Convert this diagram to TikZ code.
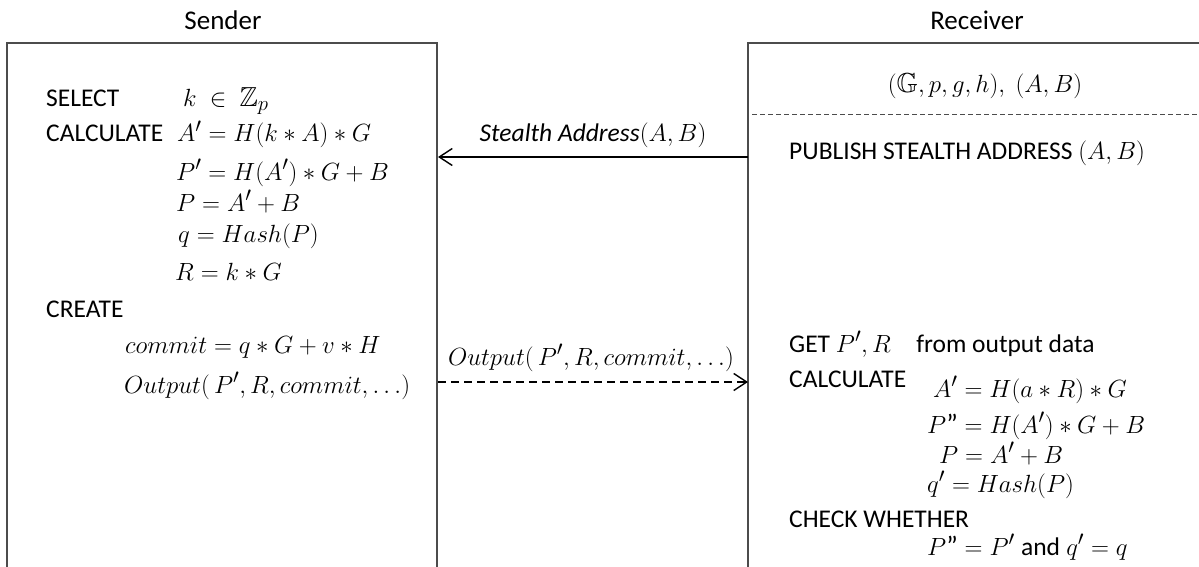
\documentclass[tikz,border=0pt]{standalone}
\usepackage{amssymb}
\usepackage[no-math]{fontspec}
\setmainfont{Carlito}
\usetikzlibrary{arrows.meta}
% formulas are set a little larger than the surrounding words
\newcommand{\fm}[1]{{\fontsize{27.5}{32}\selectfont$#1$}}

\begin{document}
\begin{tikzpicture}[x=1pt,y=-1pt,
  txt/.style={anchor=base west,inner sep=0pt,font=\fontsize{25.5}{30}\selectfont},
  eqn/.style={anchor=base west,inner sep=0pt,font=\fontsize{27.5}{32}\selectfont},
  title/.style={anchor=base,inner sep=0pt,font=\fontsize{27}{32}\selectfont},
  lane/.style={draw=black!70,line width=1.4pt},
  msg/.style={line width=1.6pt,-{Straight Barb[length=13pt,width=17pt,line width=1.4pt]}},
  msgdash/.style={msg,dash pattern=on 8pt off 5pt},
  lbl/.style={anchor=base,inner sep=0pt,font=\fontsize{25.5}{30}\selectfont}]
\useasboundingbox (0,0) rectangle (1199,567);
\clip (0,0) rectangle (1199,567);

% lane frames (open towards the bottom / right)
\coordinate (sTL) at (7,43);
\coordinate (sTR) at (437,43);
\coordinate (rTL) at (748,43);
\draw[lane] (7,567) -- (sTL) -- (sTR) -- (437,567);
\draw[lane] (748,567) -- (rTL) -- (1199,43);
\draw[black!70,line width=0.8pt,dash pattern=on 5pt off 3pt] (752,114) -- (1199,114);

% lane titles
\node[title] (sender) at (223,30) {Sender};
\node[title] (receiver) at (977,30) {Receiver};

% sender steps
\node[txt] (sel) at (46,107) {SELECT};
\node[eqn] (selk) at (183,107) {$k\ \in\ \mathbb{Z}_p$};
\node[txt] (calc) at (46,142) {CALCULATE};
\node[eqn] (s1) at (177,142) {$A' = H(k \ast A) \ast G$};
\node[eqn] (s2) at (176,180) {$P' = H(A') \ast G + B$};
\node[eqn] (s3) at (176,211) {$P = A' + B$};
\node[eqn] (s4) at (178,242) {$q = Hash(P)$};
\node[eqn] (s5) at (175,280) {$R = k \ast G$};
\node[txt] (create) at (46,317) {CREATE};
\node[eqn] (s6) at (125,353) {$commit = q \ast G + v \ast H$};
\node[eqn] (s7) at (124,393) {$Output(\,P',R,commit,\ldots)$};

% receiver steps
\node[lbl] (params) at (985,93) {\fm{(\mathbb{G},p,g,h),\ (A,B)}};
\node[txt] (pub) at (789,160) {PUBLISH STEALTH ADDRESS \fm{(A,B)}};
\node[txt] (get) at (789,352) {GET \fm{P',R}\quad from output data};
\node[txt] (rcalc) at (789,387) {CALCULATE};
\node[eqn] (r1) at (933,397) {$A' = H(a \ast R) \ast G$};
\node[eqn] (r2) at (927,433) {$P\mbox{"} = H(A') \ast G + B$};
\node[eqn] (r3) at (939,463) {$P = A' + B$};
\node[eqn] (r4) at (927,492) {$q' = Hash(P)$};
\node[txt] (check) at (789,527) {CHECK WHETHER};
\node[eqn] (r5) at (927,555) {$P\mbox{"} = P'$ {\fontsize{25.5}{30}\selectfont and} $q' = q$};

% messages between the lanes
\coordinate (rOut) at (748,157);
\coordinate (sIn) at (438,157);
\coordinate (sOut) at (438,382);
\coordinate (rIn) at (748,382);
\draw[msg] (rOut) -- (sIn);
\node[lbl] (m1) at (593,142) {\textit{Stealth Address}\fm{(A,B)}};
\draw[msgdash] (sOut) -- (rIn);
\node[lbl] (m2) at (591,365) {\fm{Output(\,P',R,commit,\ldots)}};
\end{tikzpicture}
\end{document}
